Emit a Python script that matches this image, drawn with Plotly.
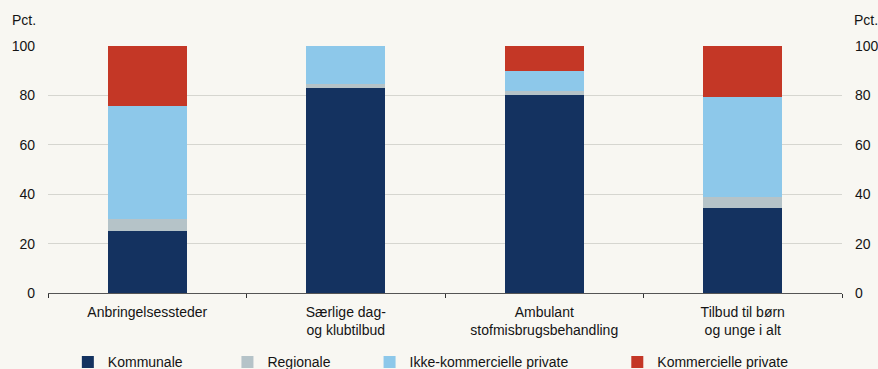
import plotly.graph_objects as go

categories = [
    "Anbringelsessteder",
    "Særlige dag-<br>og klubtilbud",
    "Ambulant<br>stofmisbrugsbehandling",
    "Tilbud til børn<br>og unge i alt",
]
series_names = ["Kommunale", "Regionale", "Ikke-kommercielle private", "Kommercielle private"]
kommunale = [25.1, 82.9, 80.2, 34.5]
regionale = [4.9, 1.8, 1.4, 4.4]
ikke_kommercielle = [45.7, 15.3, 8.3, 40.3]
kommercielle = [24.3, 0.0, 10.1, 20.8]
y_ticks = [0, 20, 40, 60, 80, 100]

colors = ["#143260", "#B5C3C8", "#8DC8EA", "#C43726"]
legend_x = [0.025, 0.226, 0.405, 0.717]
values = [kommunale, regionale, ikke_kommercielle, kommercielle]

FONT = "Liberation Sans, Arial, sans-serif"
BG = "#F8F7F2"
TXT = "#141414"

fig = go.Figure()
for i, (name, vals, col) in enumerate(zip(series_names, values, colors)):
    fig.add_trace(go.Bar(
        x=categories, y=vals, name=name,
        marker=dict(color=col, line=dict(width=0)),
        width=0.4,
        legend="legend" if i == 0 else f"legend{i+1}",
    ))

# invisible trace so the right-hand axis is drawn
fig.add_trace(go.Scatter(x=[categories[0]], y=[0], yaxis="y2", mode="markers",
                         marker=dict(opacity=0), showlegend=False, hoverinfo="skip"))

axis_font = dict(family=FONT, size=14, color=TXT)
legend_common = dict(
    orientation="h", yref="container", yanchor="middle", y=0.018, xanchor="left",
    font=axis_font, bgcolor="rgba(0,0,0,0)", itemwidth=30,
)
layouts = {}
for i, lx in enumerate(legend_x):
    key = "legend" if i == 0 else f"legend{i+1}"
    layouts[key] = dict(legend_common, x=lx)

fig.update_layout(
    barmode="stack",
    width=878, height=369,
    margin=dict(l=48, r=36, t=46, b=76, autoexpand=False),
    paper_bgcolor=BG, plot_bgcolor=BG,
    font=axis_font,
    showlegend=True,
    xaxis=dict(
        type="category", tickson="boundaries", ticks="outside", ticklen=4,
        tickcolor="#333333", showline=True, linecolor="#555555", linewidth=1,
        showgrid=False, tickfont=axis_font, automargin=False,
        ticklabelstandoff=6,
    ),
    yaxis=dict(
        range=[0, 100], tickvals=y_ticks, showgrid=True, gridcolor="#D6D6D0",
        gridwidth=1, zeroline=False, showline=False, ticks="", tickfont=axis_font,
        ticklabelstandoff=12, automargin=False,
    ),
    yaxis2=dict(
        range=[0, 100], tickvals=y_ticks, overlaying="y", side="right",
        showgrid=False, zeroline=False, showline=False, ticks="", tickfont=axis_font,
        ticklabelstandoff=12, automargin=False,
    ),
    annotations=[
        dict(text="Pct.", xref="paper", yref="paper", x=-0.048, y=1.065,
             xanchor="left", yanchor="bottom", showarrow=False, font=axis_font),
        dict(text="Pct.", xref="paper", yref="paper", x=1.0126, y=1.065,
             xanchor="left", yanchor="bottom", showarrow=False, font=axis_font),
    ],
    **layouts,
)

fig.write_html("out.html")
